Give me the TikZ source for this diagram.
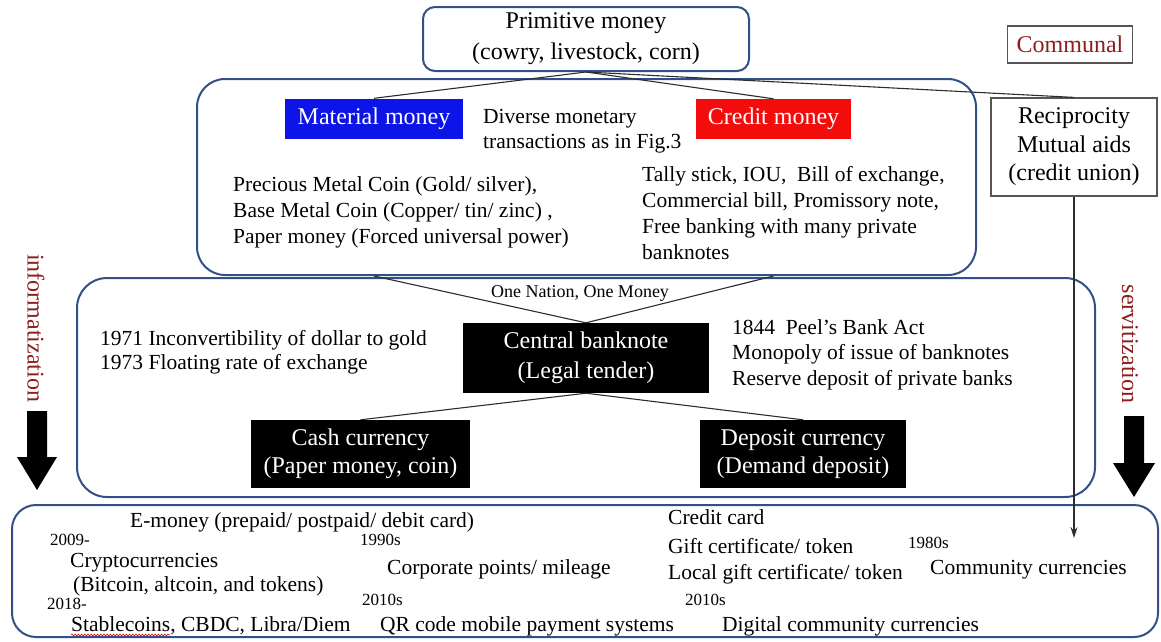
\documentclass[tikz,border=0pt]{standalone}
\usepackage{fontspec}
\setmainfont{Liberation Serif}
\usetikzlibrary{arrows.meta,decorations.pathmorphing}
\definecolor{frameblue}{RGB}{50,80,135}
\definecolor{matblue}{RGB}{12,20,232}
\definecolor{credred}{RGB}{242,12,12}
\definecolor{labelred}{RGB}{140,30,30}
\definecolor{linegray}{RGB}{45,45,45}
\definecolor{boxgray}{RGB}{85,85,85}

\begin{document}
\begin{tikzpicture}[x=1pt,y=-1pt,
  body/.style={font=\fontsize{21.5}{25.8}\selectfont, inner sep=0pt, anchor=base west},
  year/.style={font=\fontsize{17}{20}\selectfont, inner sep=0pt, anchor=base west},
  big/.style={font=\fontsize{24}{29}\selectfont},
  frame/.style={draw=frameblue, line width=2pt, rounded corners=28pt, inner sep=0pt},
  fillbox/.style={big, text=white, inner sep=0pt, align=center},
  graybox/.style={draw=boxgray, line width=1.2pt, big, inner sep=0pt, align=center},
  link/.style={draw=linegray, line width=1.1pt},
  trend/.style={big, text=labelred, rotate=-90, inner sep=0pt},
]
\useasboundingbox (0,0) rectangle (1161,641);

% ---- framed groups ----
\node[frame, minimum width=779pt, minimum height=196pt] (box2) at (586.5,177) {};
\node[frame, minimum width=1018pt, minimum height=219pt, rounded corners=30pt] (box3) at (586,387.5) {};
\node[frame, minimum width=1146pt, minimum height=132pt, rounded corners=24pt] (box4) at (585,571) {};

% ---- top ----
\node[draw=frameblue, line width=2pt, rounded corners=12pt, big, align=center,
      minimum width=326pt, minimum height=64pt, inner sep=0pt] (prim) at (586,39)
      {Primitive money\\[2pt](cowry, livestock, corn)};
\node[graybox, text=labelred, minimum width=125pt, minimum height=37pt] (comm) at (1070,44.5) {Communal};
\node[graybox, minimum width=166pt, minimum height=98pt, font=\fontsize{24}{28.5}\selectfont] (recip) at (1074,147)
      {\raisebox{-3pt}{Reciprocity}\\\raisebox{-3pt}{Mutual aids}\\\raisebox{-3pt}{(credit union)}};

\node[fillbox, fill=matblue, minimum width=178pt, minimum height=40pt] (mat) at (374,118.5) {Material money};
\node[fillbox, fill=credred, minimum width=155pt, minimum height=40pt] (cred) at (773.5,119) {Credit money};

\node[body] (div1) at (483,123) {Diverse monetary};
\node[body] (div2) at (483,148) {transactions as in Fig.3};

\node[body] (pm1) at (233,191) {Precious Metal Coin (Gold/ silver),};
\node[body] (pm2) at (233,217) {Base Metal Coin (Copper/ tin/ zinc) ,};
\node[body] (pm3) at (233,243) {Paper money (Forced universal power)};

\node[body] (cm1) at (642,181) {Tally stick, IOU,\ \ Bill of exchange,};
\node[body] (cm2) at (642,207) {Commercial bill, Promissory note,};
\node[body] (cm3) at (642,233) {Free banking with many private};
\node[body] (cm4) at (642,259) {banknotes};

% ---- middle ----
\node[font=\fontsize{18}{21}\selectfont, inner sep=0pt] (onm) at (580,293) {One Nation, One Money};
\node[fillbox, fill=black, minimum width=246pt, minimum height=70pt, font=\fontsize{24}{30}\selectfont] (central) at (586,358)
      {\raisebox{-2pt}{Central banknote}\\\raisebox{-2pt}{(Legal tender)}};
\node[fillbox, fill=black, minimum width=219pt, minimum height=68pt, font=\fontsize{24}{28}\selectfont] (cash) at (360.5,454)
      {\raisebox{-3pt}{Cash currency}\\\raisebox{-3pt}{(Paper money, coin)}};
\node[fillbox, fill=black, minimum width=206pt, minimum height=68pt, font=\fontsize{24}{28}\selectfont] (dep) at (803,454)
      {\raisebox{-3pt}{Deposit currency}\\\raisebox{-3pt}{(Demand deposit)}};

\node[body] (y71) at (100,345) {1971 Inconvertibility of dollar to gold};
\node[body] (y73) at (100,369) {1973 Floating rate of exchange};
\node[body] (p1) at (732,334) {1844\ \ Peel's Bank Act};
\node[body] (p2) at (732,359) {Monopoly of issue of banknotes};
\node[body] (p3) at (732,385) {Reserve deposit of private banks};

% ---- bottom ----
\node[body] (em) at (130,527) {E-money (prepaid/ postpaid/ debit card)};
\node[year] (y09) at (50,545) {2009-};
\node[body] (cry) at (70,567) {Cryptocurrencies};
\node[body] (btc) at (73,591) {(Bitcoin, altcoin, and tokens)};
\node[year] (y18) at (47,609) {2018-};
\node[body] (stab) at (71,631) {Stablecoins, CBDC, Libra/Diem};

\node[year] (y90) at (360,545) {1990s};
\node[body] (corp) at (387,574) {Corporate points/ mileage};
\node[year] (y10a) at (362,605) {2010s};
\node[body] (qr) at (380,631) {QR code mobile payment systems};

\node[body] (cc) at (668,524) {Credit card};
\node[body] (gift) at (668,553) {Gift certificate/ token};
\node[body] (lgift) at (668,579) {Local gift certificate/ token};
\node[year] (y10b) at (685,605) {2010s};
\node[body] (dcc) at (722,631) {Digital community currencies};

\node[year] (y80) at (908,548) {1980s};
\node[body] (comcur) at (930,574) {Community currencies};

% spell-check squiggle under the first word
\draw[red!85!black, line width=0.6pt, decorate, decoration={snake, amplitude=0.9pt, segment length=3.2pt}]
  ([yshift=-4pt]stab.base west) -- ([xshift=99pt,yshift=-4pt]stab.base west);

% ---- side trends ----
\node[trend] (info) at (36,328) {informatization};
\node[trend] (serv) at (1130,344) {servitization};
\fill (27,411) -- (47,411) -- (47,457) -- (57,457) -- (37,490) -- (17,457) -- (27,457) -- cycle;
\fill (1124,416) -- (1144,416) -- (1144,463) -- (1155,463) -- (1134,497) -- (1113,463) -- (1124,463) -- cycle;

% ---- connectors ----
\draw[link] (prim.south) -- (mat.north);
\draw[link] (prim.south) -- (cred.north);
\draw[link] (prim.south) -- (recip.north);
\draw[link] (mat |- box2.south) -- (central.north);
\draw[link] (cred |- box2.south) -- (central.north);
\draw[link] (central.south) -- (cash.north);
\draw[link] (central.south) -- (dep.north);
\coordinate (commarrow) at (recip.south |- 0,538);
\draw[link, -{Stealth[length=11pt,width=7pt]}] (recip.south) -- (commarrow);
\end{tikzpicture}
\end{document}
